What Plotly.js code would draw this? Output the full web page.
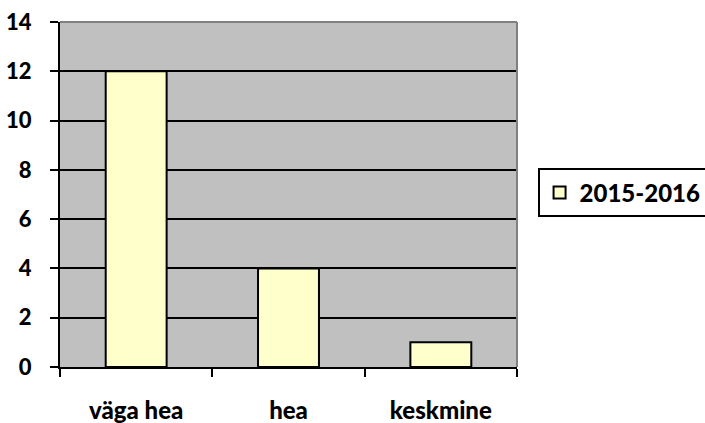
<!DOCTYPE html>
<html><head><meta charset="utf-8">
<script src="https://cdn.plot.ly/plotly-3.0.1.min.js"></script>
<style>html,body{margin:0;padding:0;background:#fff}#c{width:705px;height:423px}</style>
</head><body><div id="c"></div>
<script>
const categories = ["väga hea", "hea", "keskmine"];
const values2015 = [12, 4, 1];
const seriesName = "2015-2016";
const yTicks = [0, 2, 4, 6, 8, 10, 12, 14];

const font = "Lato";
const fw = 900;
const data = [{
  type: "bar", x: categories, y: values2015, name: seriesName,
  marker: {color: "#ffffcc", line: {color: "#000", width: 2}},
  hoverinfo: "none"
}];
const layout = {
  width: 705, height: 423,
  margin: {l: 60, r: 188, t: 22, b: 56, autoexpand: false},
  paper_bgcolor: "#fff", plot_bgcolor: "#c0c0c0",
  bargap: 0.6,
  showlegend: true,
  font: {family: font, size: 22, color: "#000", weight: fw},
  xaxis: {
    type: "category", tickson: "boundaries", ticks: "outside", ticklen: 8, tickwidth: 2, tickcolor: "#000",
    showline: true, linecolor: "#000", linewidth: 2, showgrid: false,
    ticklabelstandoff: 21, tickfont: {family: font, size: 24, weight: fw, color: "#000"}
  },
  yaxis: {
    range: [0, 14], tickvals: yTicks, ticktext: yTicks.map(String),
    ticks: "outside", ticklen: 8, tickwidth: 2, tickcolor: "#000",
    showline: true, linecolor: "#000", linewidth: 2,
    showgrid: true, gridcolor: "#000", gridwidth: 2, zeroline: false,
    ticklabelstandoff: 14, tickfont: {family: font, size: 22, weight: fw, color: "#000"}
  },
  legend: {
    x: 1.045, xanchor: "left", y: 0.505, yanchor: "middle",
    bordercolor: "#000", borderwidth: 2, bgcolor: "#fff",
    itemwidth: 30,
    font: {family: font, size: 24, weight: fw, color: "#000"}
  },
  shapes: [
    {type: "line", xref: "paper", yref: "paper", x0: 0, x1: 1, y0: 1, y1: 1, line: {color: "#808080", width: 2}},
    {type: "line", xref: "paper", yref: "paper", x0: 1, x1: 1, y0: 0, y1: 1, line: {color: "#808080", width: 2}}
  ]
};
Plotly.newPlot("c", data, layout, {displayModeBar: false, staticPlot: true});
</script></body></html>
